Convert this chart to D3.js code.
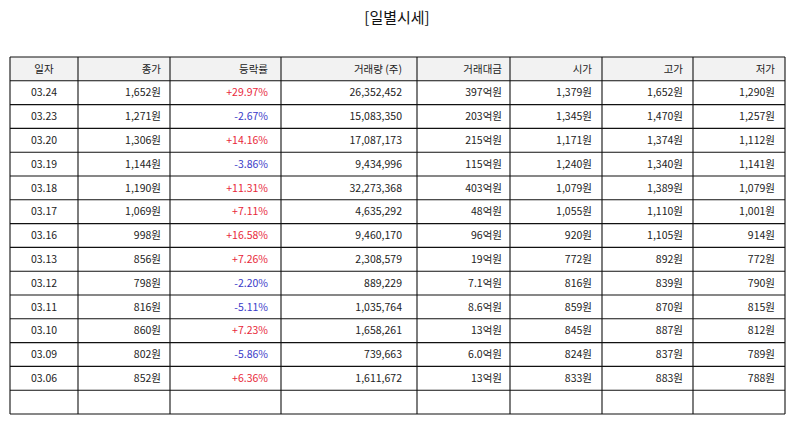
<!DOCTYPE html>
<html>
<head>
<meta charset="utf-8">
<script src="https://cdn.jsdelivr.net/npm/d3@7"></script>
<style>
  body { margin: 0; background: #fff; }
  svg { display: block; font-family: "Noto Sans CJK KR", "Noto Sans", sans-serif; }
</style>
</head>
<body>
<svg id="chart" width="794" height="425"></svg>
<script>
const TITLE = '[일별시세]';
const headers = ['일자', '종가', '등락률', '거래량 (주)', '거래대금', '시가', '고가', '저가'];
const dates = ['03.24', '03.23', '03.20', '03.19', '03.18', '03.17', '03.16', '03.13', '03.12', '03.11', '03.10', '03.09', '03.06'];
const closes = [1652, 1271, 1306, 1144, 1190, 1069, 998, 856, 798, 816, 860, 802, 852];
const changes = [29.97, -2.67, 14.16, -3.86, 11.31, 7.11, 16.58, 7.26, -2.20, -5.11, 7.23, -5.86, 6.36];
const volumes = [26352452, 15083350, 17087173, 9434996, 32273368, 4635292, 9460170, 2308579, 889229, 1035764, 1658261, 739663, 1611672];
const amounts = ['397억원', '203억원', '215억원', '115억원', '403억원', '48억원', '96억원', '19억원', '7.1억원', '8.6억원', '13억원', '6.0억원', '13억원'];
const opens = [1379, 1345, 1171, 1240, 1079, 1055, 920, 772, 816, 859, 845, 824, 833];
const highs = [1652, 1470, 1374, 1340, 1389, 1110, 1105, 892, 839, 870, 887, 837, 883];
const lows = [1290, 1257, 1112, 1141, 1079, 1001, 914, 772, 790, 815, 812, 789, 788];

// layout
const COL_WIDTHS = [68, 92, 111, 136, 93, 92, 91, 92];
const COL_PAD = [0, 9, 13, 15, 8, 10, 10, 10];
const TABLE_LEFT = 10;
const TABLE_TOP = 57;
const ROW_H = 23.8;
const FONT_SIZE = 10.5;
const RED = '#e8283a';
const BLUE = '#3a3ac8';

const fmt = d3.format(',');
const won = (v) => `${fmt(v)}원`;
const pct = (v) => `${v > 0 ? '+' : ''}${v.toFixed(2)}%`;

const rows = dates.map((d, i) => [
  { text: d, align: 'middle' },
  { text: won(closes[i]) },
  { text: pct(changes[i]), color: changes[i] > 0 ? RED : BLUE },
  { text: fmt(volumes[i]) },
  { text: amounts[i] },
  { text: won(opens[i]) },
  { text: won(highs[i]) },
  { text: won(lows[i]) }
]);
rows.push(headers.map(() => ({ text: '' })));

const colX = [TABLE_LEFT];
COL_WIDTHS.forEach((w, i) => colX.push(colX[i] + w));
const tableRight = colX[colX.length - 1];

const cellX = (i, middle) => (middle ? (colX[i] + colX[i + 1]) / 2 : colX[i + 1] - COL_PAD[i]);

const rowScale = d3.scaleBand()
  .domain(d3.range(rows.length + 1))
  .range([TABLE_TOP, TABLE_TOP + ROW_H * (rows.length + 1)]);

const svg = d3.select('#chart');

svg.append('text')
  .attr('x', 397)
  .attr('y', 23)
  .attr('text-anchor', 'middle')
  .attr('font-size', 15)
  .attr('fill', '#111')
  .text(TITLE);

const table = svg.append('g').attr('class', 'table');

// header background
table.append('rect')
  .attr('x', TABLE_LEFT)
  .attr('y', rowScale(0))
  .attr('width', tableRight - TABLE_LEFT)
  .attr('height', rowScale.bandwidth())
  .attr('fill', '#f2f2f2');

// header labels
table.append('g')
  .selectAll('text')
  .data(headers)
  .join('text')
  .attr('x', (d, i) => cellX(i, i === 0))
  .attr('y', rowScale(0) + rowScale.bandwidth() / 2)
  .attr('dy', '0.35em')
  .attr('text-anchor', (d, i) => (i === 0 ? 'middle' : 'end'))
  .attr('font-size', FONT_SIZE)
  .attr('fill', '#222')
  .text((d) => d);

// body cells
const rowGroups = table.append('g')
  .selectAll('g')
  .data(rows)
  .join('g')
  .attr('transform', (d, i) => `translate(0, ${rowScale(i + 1) + rowScale.bandwidth() / 2})`);

rowGroups.selectAll('text')
  .data((d) => d)
  .join('text')
  .attr('x', (d, i) => cellX(i, d.align === 'middle'))
  .attr('dy', '0.35em')
  .attr('text-anchor', (d) => (d.align === 'middle' ? 'middle' : 'end'))
  .attr('font-size', FONT_SIZE)
  .attr('fill', (d) => d.color ?? '#222')
  .text((d) => d.text);

// grid lines
const gridTop = rowScale(0);
const gridBottom = rowScale(rows.length) + rowScale.bandwidth();

table.append('g')
  .selectAll('line')
  .data(d3.range(rows.length + 2))
  .join('line')
  .attr('x1', TABLE_LEFT)
  .attr('x2', tableRight)
  .attr('y1', (i) => gridTop + i * rowScale.step())
  .attr('y2', (i) => gridTop + i * rowScale.step())
  .attr('stroke', '#111')
  .attr('stroke-width', 1.1);

table.append('g')
  .selectAll('line')
  .data(colX)
  .join('line')
  .attr('x1', (d) => d)
  .attr('x2', (d) => d)
  .attr('y1', gridTop)
  .attr('y2', gridBottom)
  .attr('stroke', '#111')
  .attr('stroke-width', 1.1);
</script>
</body>
</html>
